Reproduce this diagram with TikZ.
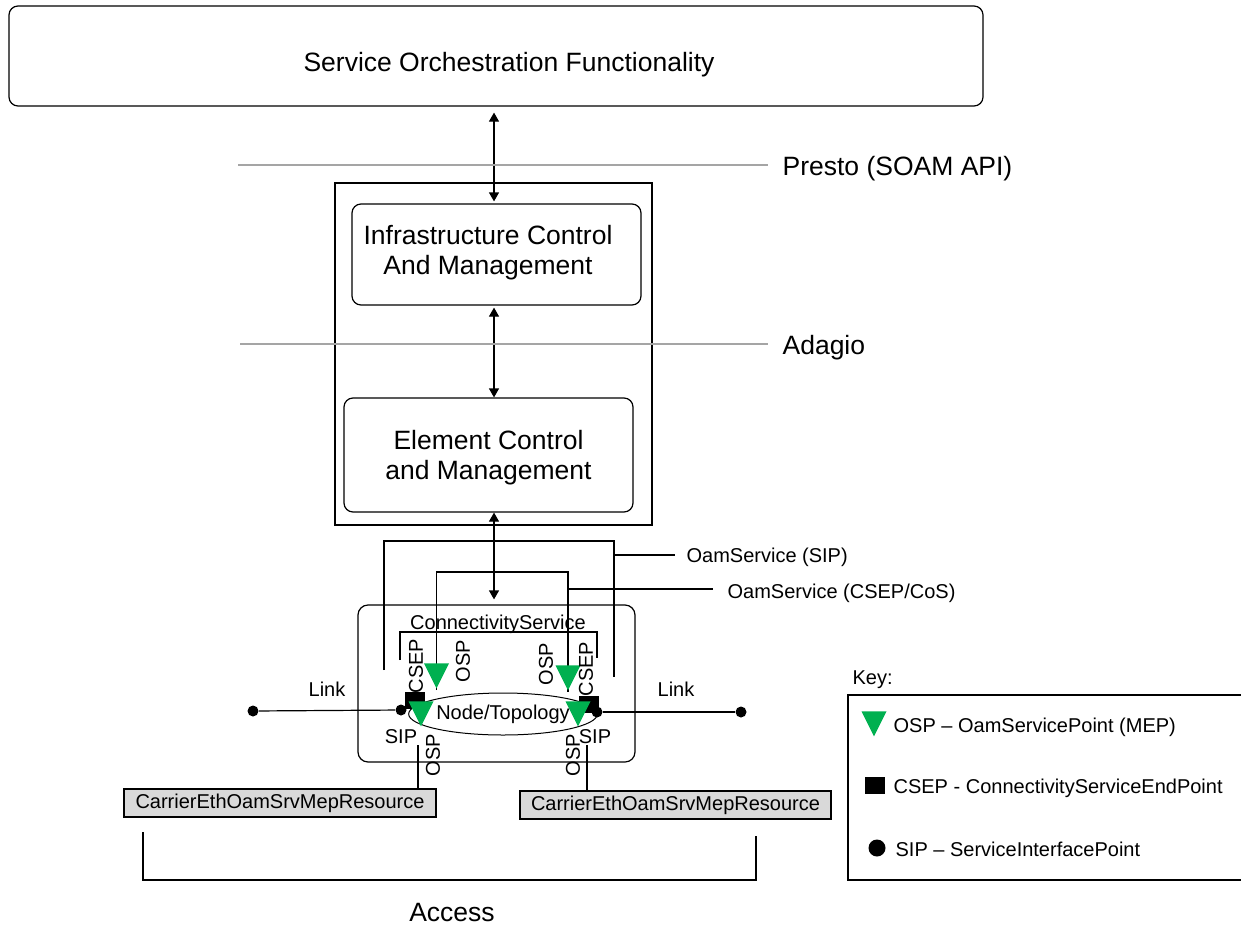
\documentclass[tikz,border=0pt]{standalone}
\usepackage{fontspec}
\setmainfont{Liberation Sans}
\usetikzlibrary{arrows.meta,shapes.geometric}
\definecolor{ospgreen}{RGB}{0,176,80}
\definecolor{mepgrey}{RGB}{217,217,217}
\definecolor{apigrey}{RGB}{165,165,165}
\begin{document}
\begin{tikzpicture}[x=1pt,y=-1pt,line width=1.2pt,>={Triangle[length=9pt,width=10pt]},
  big/.style={font=\fontsize{26.5}{30.5}\selectfont},
  small/.style={font=\fontsize{20}{23}\selectfont},
  box/.style={draw,rounded corners=9pt},
  boxtext/.style={big,align=center},
  ospmark/.style={isosceles triangle,isosceles triangle stretches,shape border rotate=-90,fill=ospgreen,minimum width=25pt,minimum height=25pt,inner sep=0pt,anchor=apex},
  csepmark/.style={fill=black,minimum width=20pt,minimum height=17pt,inner sep=0pt},
  sipmark/.style={circle,fill=black,minimum size=11pt,inner sep=0pt},
  vlabel/.style={small,rotate=90,inner sep=0pt},
  txt/.style={small,inner sep=0pt},
  mepres/.style={draw,fill=mepgrey,small,minimum width=312pt,minimum height=28pt,inner sep=0pt}]
\useasboundingbox (0,0) rectangle (1241,926);
\path
(494,0) coordinate (axis)
(436.5,690) coordinate (pTL) (568,692) coordinate (pTR)
(421,728) coordinate (pBL) (578,728) coordinate (pBR);

\node[box,minimum width=974pt,minimum height=100pt,label={[big,xshift=13pt,yshift=-9pt]center:Service Orchestration Functionality}] (orch) at (496,56) {};
\node[draw,minimum width=317pt,minimum height=342pt] (ctrl) at (493.5,354) {};
\node[box,minimum width=289pt,minimum height=101pt,label={[boxtext,xshift=-8.5pt,yshift=2pt]center:Infrastructure Control\\And Management}] (infra) at (496.5,254.5) {};
\node[box,minimum width=289pt,minimum height=114pt,label={[boxtext,yshift=-2.5pt]center:Element Control\\and Management}] (elem) at (488.5,455) {};
\node[draw,rounded corners=10pt,minimum width=277pt,minimum height=157pt] (cs) at (496.5,683.5) {};
\node[txt] (cstext) at (498,624) {ConnectivityService};

\draw[<->,shorten <=6pt,shorten >=2pt] (orch.south -| axis) -- (infra.north -| axis);
\draw[<->,shorten <=2pt] (infra.south -| axis) -- (elem.north -| axis);
\draw[<->,shorten >=5pt] (elem.south -| axis) -- (cs.north -| axis);

\draw[apigrey] (238,165) -- (768,165);
\node[big,anchor=west,inner sep=0pt] (presto) at (782,168.5) {Presto (SOAM API)};
\draw[apigrey] (240,344) -- (768,344);
\node[big,anchor=west,inner sep=0pt] (adagio) at (782,347.5) {Adagio};

\draw (384,670) -- (384,541) -- (614,541) -- (614,677);
\draw (614,555) -- (675,555);
\node[txt,anchor=west] (oamsip) at (686,557) {OamService (SIP)};
\draw (pTL) -- (pTL |- 0,572) -- (pTR |- 0,572) -- (pTR);
\draw (pTR |- 0,589) -- (713,589);
\node[txt,anchor=west] (oamcsep) at (727,593.5) {OamService (CSEP/CoS)};
\draw (400,660) -- (400,632) -- (597,632) -- (597,658);

\node[draw,ellipse,line width=1pt,minimum width=188pt,minimum height=42pt,inner sep=0pt,small] (topo) at (503,714) {Node/Topology};
\node[csepmark] (csepL) at (414.5,700) {};
\node[csepmark] (csepR) at (589,704) {};
\node[sipmark] (sipL) at (401,710) {};
\node[sipmark] (sipR) at (597,712) {};
\node[sipmark] (linkL) at (253,711) {};
\node[sipmark] (linkR) at (741,712) {};
\draw (linkL) -- (sipL);
\draw (sipR) -- (linkR);
\foreach \p in {TL,TR,BL,BR}
  \node[ospmark] (osp\p) at (p\p) {};

\node[txt] (linkLtext) at (327,689) {Link};
\node[txt] (linkRtext) at (676,689) {Link};
\node[txt] (sipLtext) at (401,737) {SIP};
\node[txt] (sipRtext) at (595,737) {SIP};
\node[vlabel] (csepLtext) at (416,666) {CSEP};
\node[vlabel] (ospTLtext) at (463,661) {OSP};
\node[vlabel] (ospTRtext) at (546,664) {OSP};
\node[vlabel] (csepRtext) at (586,669) {CSEP};
\node[vlabel] (ospBLtext) at (433,755) {OSP};
\node[vlabel] (ospBRtext) at (573,755) {OSP};

\node[mepres] (mepL) at (280,803) {CarrierEthOamSrvMepResource};
\node[mepres,minimum width=311pt] (mepR) at (675.5,805) {CarrierEthOamSrvMepResource};
\draw (418,745) -- (mepL.north -| 418,0);
\draw (587,745) -- (mepR.north -| 587,0);

\draw (143,832) -- (143,880) -- (756,880) -- (756,836);
\node[big] (access) at (452,912) {Access};

\node[txt,anchor=west] (keytitle) at (852,680) {Key:};
\draw (848,695) rectangle (1245,880);
\node[ospmark] (keyosp) at (874,738) {};
\node[txt,anchor=west] (keyosptext) at (893,727) {OSP – OamServicePoint (MEP)};
\node[csepmark] (keycsep) at (875,785.5) {};
\node[txt,anchor=west] (keyceptext) at (893,788) {CSEP - ConnectivityServiceEndPoint};
\node[sipmark,minimum size=17pt] (keysip) at (877,848) {};
\node[txt,anchor=west] (keysiptext) at (895,849) {SIP – ServiceInterfacePoint};
\end{tikzpicture}
\end{document}
